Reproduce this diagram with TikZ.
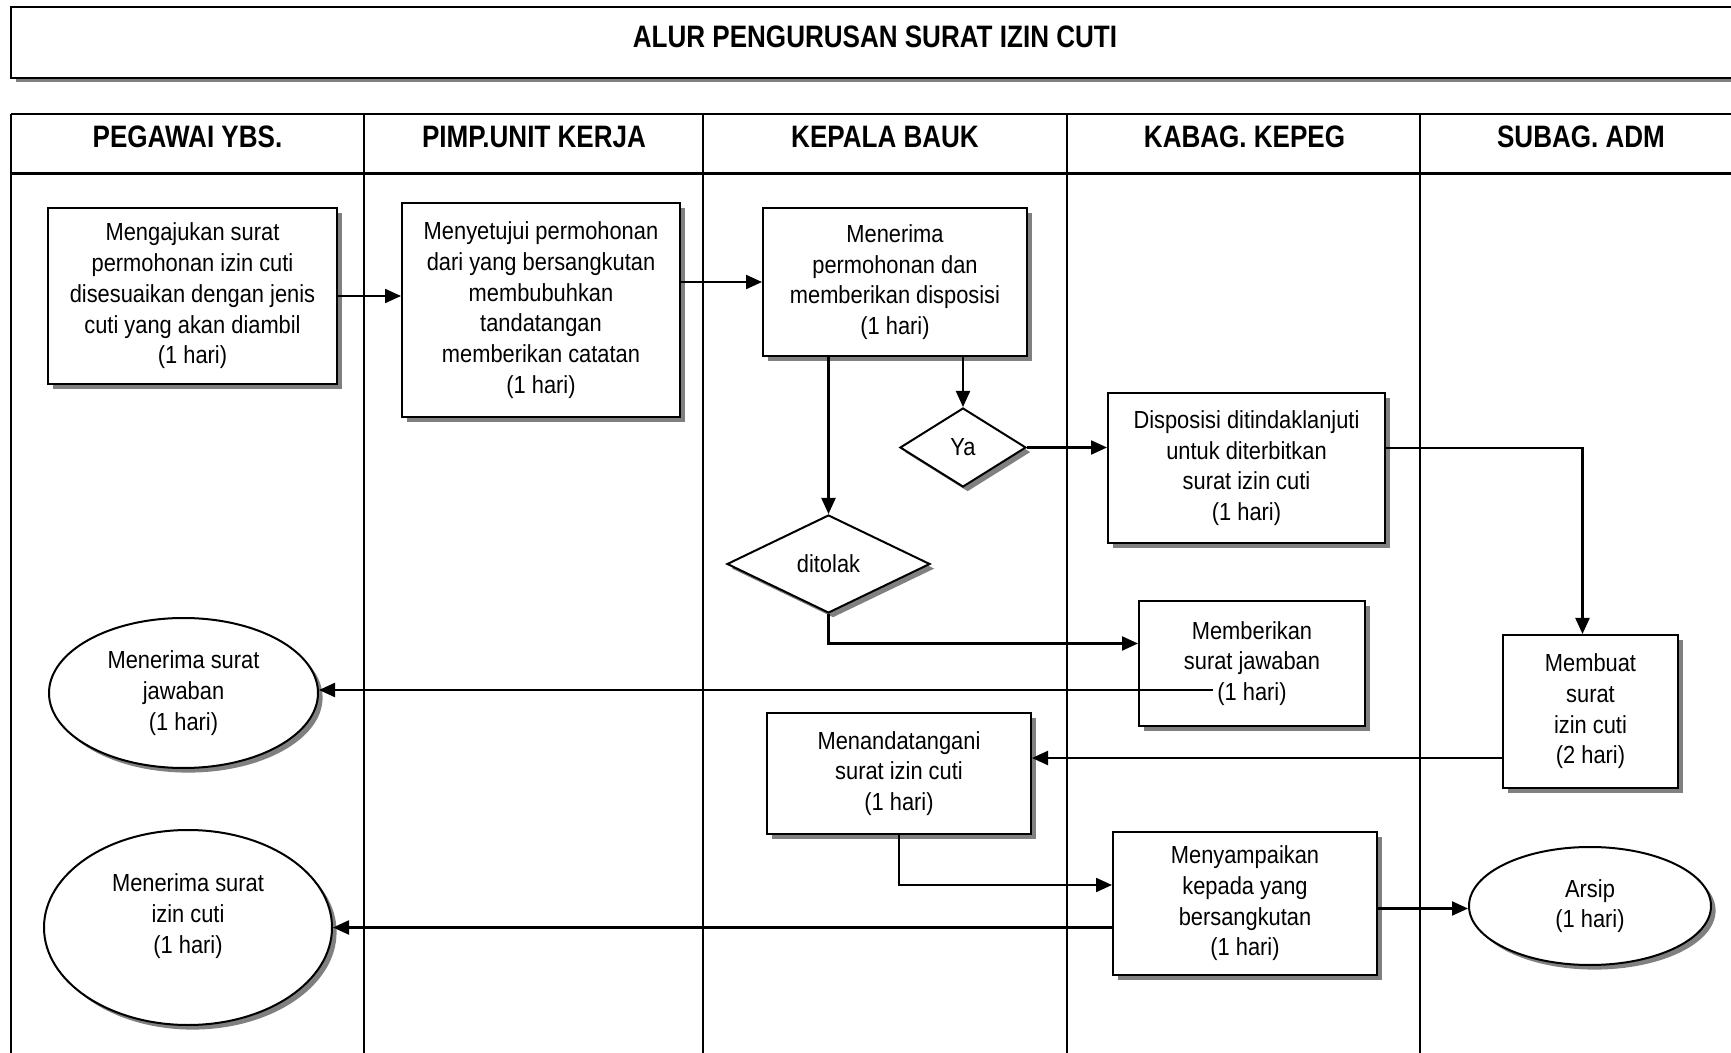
\documentclass[tikz,border=0pt]{standalone}
\usepackage{fontspec}
\setmainfont{Liberation Sans}[FakeStretch=0.885]
\newfontfamily\headfont{Liberation Sans}[FakeStretch=0.84]
\usetikzlibrary{shapes.geometric,shadows,arrows.meta,calc}
\newcommand\txtbody{\fontsize{12.35}{15.35}\selectfont}
\newcommand\txthead{\headfont\bfseries\fontsize{15.5}{18}\selectfont}

\begin{document}
\begin{tikzpicture}[x=0.5pt,y=-0.5pt,
  boxshadow/.style={drop shadow={shadow xshift=2.3pt,shadow yshift=-2.3pt,fill=black!50,opacity=1}},
  proc/.style={draw=black,line width=1pt,fill=white,boxshadow,align=center,font=\txtbody},
  decide/.style={diamond,aspect=2,inner sep=2pt,draw=black,line width=1pt,fill=white,boxshadow,align=center,font=\txtbody},
  term/.style={ellipse,inner sep=1pt,draw=black,line width=1pt,fill=white,boxshadow,align=center,font=\txtbody},
  lanehead/.style={font=\txthead,inner sep=0pt},
  arr/.style={line width=1.1pt,-{Triangle[length=8pt,width=7pt]}}
]
\useasboundingbox (0,0) rectangle (1731,1053);
\clip (0,0) rectangle (1731,1053);
\fill[white] (0,0) rectangle (1731,1053);

% title frame
\fill[black!50] (15.5,11.5) rectangle (1800,82.5);
\draw[line width=1pt,fill=white] (11,7) rectangle (1800,78);
\node[lanehead] (title) at (875,36.5) {ALUR PENGURUSAN SURAT IZIN CUTI};

% swimlanes
\draw[line width=1.4pt] (11,114) -- (1800,114);
\draw[line width=1.4pt] (11,173.5) -- (1800,173.5);
\foreach \x in {11,364,703,1067,1420}
  \draw[line width=1pt] (\x,114) -- (\x,1100);
\node[lanehead] (h1) at (187.5,137) {PEGAWAI YBS.};
\node[lanehead] (h2) at (534,137) {PIMP.UNIT KERJA};
\node[lanehead] (h3) at (885,137) {KEPALA BAUK};
\node[lanehead] (h4) at (1244.5,137) {KABAG. KEPEG};
\node[lanehead] (h5) at (1581,137) {SUBAG. ADM};

% steps
\node[proc,minimum width=144.5pt,minimum height=88pt] (b1) at (192.5,296)
  {Mengajukan surat\\permohonan izin cuti\\disesuaikan dengan jenis\\cuti yang akan diambil\\(1 hari)};
\node[proc,minimum width=139pt,minimum height=107pt] (b2) at (541,310)
  {Menyetujui permohonan\\dari yang bersangkutan\\membubuhkan\\tandatangan\\memberikan catatan\\(1 hari)};
\node[proc,minimum width=132pt,minimum height=74pt] (b3) at (895,282)
  {Menerima\\permohonan dan\\memberikan disposisi\\(1 hari)};
\node[decide,minimum width=63pt,minimum height=39.5pt] (ya) at (963,447.5) {Ya};
\node[decide,minimum width=101.5pt,minimum height=49pt] (tolak) at (828.5,564) {ditolak};
\node[proc,minimum width=138.5pt,minimum height=75pt] (b4) at (1246.5,468)
  {Disposisi ditindaklanjuti\\untuk diterbitkan\\surat izin cuti\\(1 hari)};
\node[proc,minimum width=113pt,minimum height=62.5pt] (b5) at (1252,663.5)
  {Memberikan\\surat jawaban\\(1 hari)};
\node[proc,minimum width=87.5pt,minimum height=76.5pt] (b6) at (1590.5,711.5)
  {Membuat\\surat\\izin cuti\\(2 hari)};
\node[proc,minimum width=132pt,minimum height=60.5pt] (b7) at (899,773.5)
  {Menandatangani\\surat izin cuti\\(1 hari)};
\node[proc,minimum width=132pt,minimum height=71.5pt] (b8) at (1245,903.5)
  {Menyampaikan\\kepada yang\\bersangkutan\\(1 hari)};
\node[term,minimum width=134.5pt,minimum height=75pt] (e1) at (183.5,693)
  {Menerima surat\\jawaban\\(1 hari)};
\node[term,minimum width=144pt,minimum height=97.5pt] (e2) at (188,927.5)
  {Menerima surat\\izin cuti\\(1 hari)\\[-6pt]\strut};
\node[term,minimum width=121pt,minimum height=59pt] (e3) at (1590,906)
  {Arsip\\(1 hari)};

% flow
\draw[arr] (b1.east) -- (b1.east -| b2.west);
\draw[arr] (b2.east |- b3.west) -- (b3.west);
\draw[arr] (b3.south -| tolak.north) -- (tolak.north);
\draw[arr] (b3.south -| ya.north) -- (ya.north);
\draw[arr] (ya.east) -- (ya.east -| b4.west);
\draw[arr] ([yshift=10pt]b4.east) -| ([xshift=-4pt]b6.north);
\draw[arr] (tolak.south) |- ([yshift=10pt]b5.west);
\coordinate (j2) at ($(b5.center)+(-39,26.5)$);
\draw[arr] (j2) -- (j2 -| e1.east);
\coordinate (j3) at ([yshift=7.75pt]b7.east);
\draw[arr] (j3 -| b6.west) -- (j3);
\draw[arr] (b7.south) |- ([yshift=9.25pt]b8.west);
\draw[arr] (b8.west |- e2.east) -- (e2.east);
\coordinate (j4) at ([yshift=-2.5pt]b8.east);
\draw[arr] (j4) -- (j4 -| e3.west);
\end{tikzpicture}
\end{document}
